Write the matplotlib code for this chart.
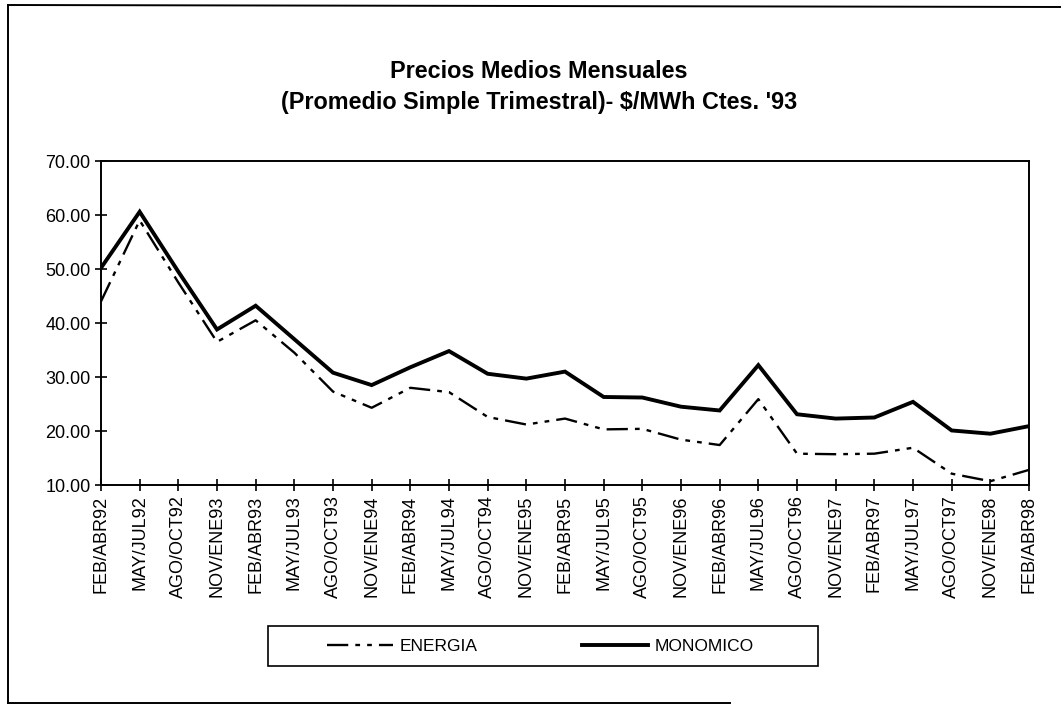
import matplotlib
matplotlib.use('Agg')

import matplotlib.pyplot as plt
from matplotlib.lines import Line2D
from matplotlib.patches import Rectangle

periodos = [
    'FEB/ABR92', 'MAY/JUL92', 'AGO/OCT92', 'NOV/ENE93',
    'FEB/ABR93', 'MAY/JUL93', 'AGO/OCT93', 'NOV/ENE94',
    'FEB/ABR94', 'MAY/JUL94', 'AGO/OCT94', 'NOV/ENE95',
    'FEB/ABR95', 'MAY/JUL95', 'AGO/OCT95', 'NOV/ENE96',
    'FEB/ABR96', 'MAY/JUL96', 'AGO/OCT96', 'NOV/ENE97',
    'FEB/ABR97', 'MAY/JUL97', 'AGO/OCT97', 'NOV/ENE98',
    'FEB/ABR98'
]

energia = [
    44.0, 59.0, 47.5, 36.5, 40.5, 34.5, 27.3, 24.3, 28.0, 27.2,
    22.6, 21.2, 22.3, 20.3, 20.4, 18.4, 17.4, 25.9, 15.8, 15.7,
    15.8, 16.9, 12.1, 10.7, 12.8
]

monomico = [
    50.2, 60.6, 49.5, 38.8, 43.2, 37.0, 30.8, 28.5, 31.8, 34.8,
    30.6, 29.7, 31.0, 26.3, 26.2, 24.5, 23.8, 32.2, 23.1, 22.3,
    22.5, 25.4, 20.1, 19.5, 20.9
]

y_ticks = [10, 20, 30, 40, 50, 60, 70]

plt.rcParams['font.family'] = ['Liberation Sans', 'DejaVu Sans']

W, H = 1061, 707
fig = plt.figure(figsize=(W / 100, H / 100), dpi=100)
fig.patch.set_facecolor('white')

# plot area in pixel terms of the scanned page
left, right, top, bottom = 101, 1029, 161, 485
ax = fig.add_axes([left / W, 1 - bottom / H, (right - left) / W, (bottom - top) / H])

x = list(range(len(periodos)))
ax.plot(x, energia, color='black', linewidth=1.7,
        linestyle=(0, (9, 3, 2, 3, 2, 3)), label='ENERGIA')
ax.plot(x, monomico, color='black', linewidth=2.8,
        solid_joinstyle='miter', label='MONOMICO')

ax.set_xlim(0, len(periodos) - 1)
ax.set_ylim(10, 70)
ax.set_yticks(y_ticks)
ax.set_yticklabels(['%.2f' % v for v in y_ticks], fontsize=13)
ax.set_xticks(x)
ax.set_xticklabels(periodos, rotation=90, fontsize=13)
ax.tick_params(direction='inout', length=9, width=1.2, colors='black', pad=3)
for s in ax.spines.values():
    s.set_linewidth(1.4)
    s.set_color('black')

# title
fig.text(0.508, 1 - 72 / H, 'Precios Medios Mensuales', ha='center', va='center',
         fontsize=16.8, fontweight='bold')
fig.text(0.508, 1 - 103 / H, "(Promedio Simple Trimestral)- $/MWh Ctes. '93",
         ha='center', va='center', fontsize=16.8, fontweight='bold')

# legend box
lx0, lx1, ly0, ly1 = 268, 818, 626, 666
fig.add_artist(Rectangle((lx0 / W, 1 - ly1 / H), (lx1 - lx0) / W, (ly1 - ly0) / H,
                         transform=fig.transFigure, fill=False,
                         edgecolor='black', linewidth=1.2))
fig.legend(loc='center left', bbox_to_anchor=(327 / W, 1 - 646 / H), ncol=2,
           frameon=False, fontsize=12.5, handlelength=3.8, handletextpad=0.4,
           columnspacing=6.0, borderpad=0, borderaxespad=0)

# outer page frame
fig.add_artist(Line2D([8 / W, 8 / W], [1 - 703 / H, 1 - 5 / H], transform=fig.transFigure,
                      color='black', linewidth=1.4))
fig.add_artist(Line2D([8 / W, 1.0], [1 - 5 / H, 1 - 7 / H], transform=fig.transFigure,
                      color='black', linewidth=1.4))
fig.add_artist(Line2D([8 / W, 730 / W], [1 - 703 / H, 1 - 703 / H], transform=fig.transFigure,
                      color='black', linewidth=1.4))

fig.savefig('out.png', dpi=100)
